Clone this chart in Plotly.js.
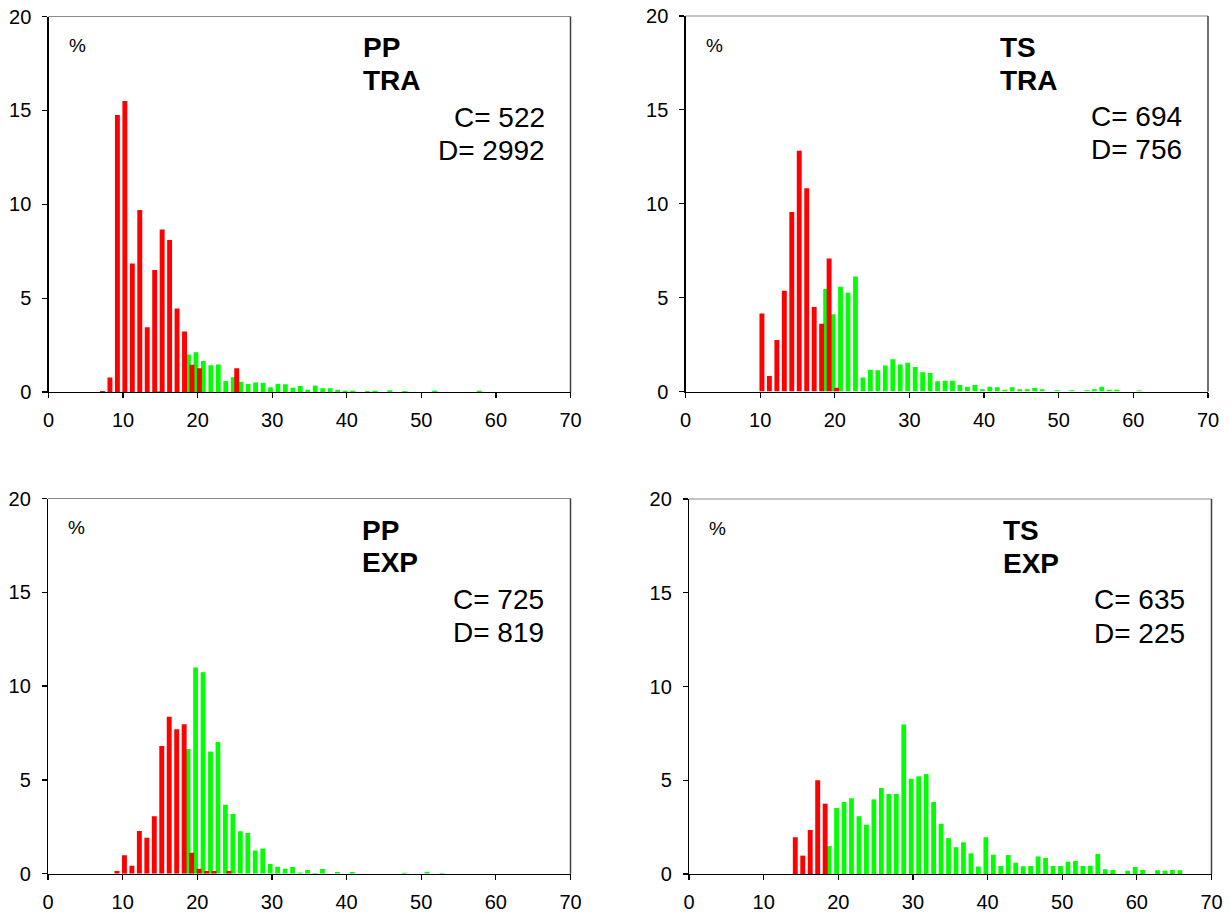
<!DOCTYPE html>
<html>
<head>
<meta charset="utf-8">
<script src="https://cdn.plot.ly/plotly-3.0.1.min.js"></script>
<style>
  html, body { margin: 0; padding: 0; background: #fff; }
  #chart { width: 1231px; height: 914px; }
</style>
</head>
<body>
<div id="chart"></div>
<script>
// ---------- DATA ----------
// Panel 1: PP TRA
const ppTraRedX = [7, 8, 9, 10, 11, 12, 13, 14, 15, 16, 17, 18, 19, 20, 25];
const ppTraRedY = [0.05, 0.77, 14.75, 15.5, 6.85, 9.7, 3.45, 6.5, 8.65, 8.1, 4.45, 3.22, 1.45, 1.26, 1.26];
const ppTraGreenX = [15, 19, 20, 21, 22, 23, 24, 25, 26, 27, 28, 29, 30, 31, 32, 33, 34, 35, 36, 37, 38, 39, 40, 41, 43, 44, 46, 48, 52, 58];
const ppTraGreenY = [0.05, 2.0, 2.12, 1.65, 1.43, 1.46, 0.58, 0.79, 0.55, 0.43, 0.51, 0.49, 0.25, 0.44, 0.41, 0.23, 0.32, 0.12, 0.34, 0.2, 0.2, 0.12, 0.07, 0.07, 0.05, 0.07, 0.09, 0.05, 0.07, 0.07];

// Panel 2: TS TRA
const tsTraRedX = [10, 11, 12, 13, 14, 15, 16, 17, 18, 19, 20];
const tsTraRedY = [4.16, 0.82, 2.74, 5.37, 9.56, 12.82, 10.83, 4.5, 3.61, 7.08, 0.2];
const tsTraGreenX = [19, 20, 21, 22, 23, 24, 25, 26, 27, 28, 29, 30, 31, 32, 33, 34, 35, 36, 37, 38, 39, 40, 41, 42, 43, 44, 45, 46, 47, 48, 50, 52, 54, 55, 56, 57, 58, 61];
const tsTraGreenY = [5.46, 4.12, 5.58, 5.26, 6.13, 0.75, 1.16, 1.13, 1.39, 1.72, 1.44, 1.53, 1.3, 1.03, 0.98, 0.55, 0.57, 0.57, 0.34, 0.25, 0.34, 0.12, 0.25, 0.23, 0.09, 0.23, 0.12, 0.12, 0.18, 0.12, 0.07, 0.07, 0.07, 0.12, 0.25, 0.09, 0.09, 0.05];

// Panel 3: PP EXP
const ppExpRedX = [9, 10, 11, 12, 13, 14, 15, 16, 17, 18, 19, 20, 21, 22, 24];
const ppExpRedY = [0.14, 0.98, 0.43, 2.28, 1.92, 3.06, 6.81, 8.36, 7.7, 7.96, 1.12, 0.27, 0.14, 0.14, 0.14];
const ppExpGreenX = [19, 20, 21, 22, 23, 24, 25, 26, 27, 28, 29, 30, 31, 32, 33, 34, 35, 36, 37, 39, 41, 48, 51, 53];
const ppExpGreenY = [6.65, 10.99, 10.74, 6.51, 7.02, 3.68, 3.18, 2.26, 2.17, 1.24, 1.34, 0.52, 0.37, 0.27, 0.36, 0.07, 0.2, 0.04, 0.25, 0.09, 0.09, 0.05, 0.11, 0.04];

// Panel 4: TS EXP
const tsExpRedX = [14, 15, 16, 17, 18];
const tsExpRedY = [1.96, 0.98, 2.35, 5.0, 3.75];
const tsExpGreenX = [19, 20, 21, 22, 23, 24, 25, 26, 27, 28, 29, 30, 31, 32, 33, 34, 35, 36, 37, 38, 39, 40, 41, 42, 43, 44, 45, 46, 47, 48, 49, 50, 51, 52, 53, 54, 55, 56, 57, 59, 60, 61, 63, 64, 65, 66];
const tsExpGreenY = [1.49, 3.52, 3.84, 4.04, 3.08, 2.63, 3.98, 4.59, 4.27, 4.27, 7.98, 5.08, 5.21, 5.33, 3.84, 2.68, 1.91, 1.43, 1.69, 1.1, 0.4, 1.96, 1.03, 0.43, 1.01, 0.6, 0.41, 0.43, 0.94, 0.85, 0.43, 0.43, 0.66, 0.69, 0.43, 0.44, 1.07, 0.25, 0.21, 0.18, 0.37, 0.21, 0.2, 0.18, 0.21, 0.2];

// Panel labels
const panelGroup = ["PP", "TS", "PP", "TS"];
const panelType = ["TRA", "TRA", "EXP", "EXP"];
const panelC = [522, 694, 725, 635];
const panelD = [2992, 756, 819, 225];

const xTicks = [0, 10, 20, 30, 40, 50, 60, 70];
const yTicks = [0, 5, 10, 15, 20];

// ---------- LAYOUT ----------
const W = 1231, H = 914;
// plot areas in px: [left, right, top, bottom]
const boxes = [
  [48.5, 570.5, 16.5, 392],
  [685.5, 1208, 16, 391.5],
  [48, 570.5, 498.5, 873.7],
  [689, 1211.5, 499, 874]
];
const series = [
  [ppTraRedX, ppTraRedY, ppTraGreenX, ppTraGreenY],
  [tsTraRedX, tsTraRedY, tsTraGreenX, tsTraGreenY],
  [ppExpRedX, ppExpRedY, ppExpGreenX, ppExpGreenY],
  [tsExpRedX, tsExpRedY, tsExpGreenX, tsExpGreenY]
];

const FONT = "Liberation Sans, Arial, sans-serif";
const data = [];
const layout = {
  width: W, height: H,
  margin: {l: 0, r: 0, t: 0, b: 0},
  paper_bgcolor: "#fff", plot_bgcolor: "#fff",
  showlegend: false,
  barmode: "overlay",
  font: {family: FONT, color: "#000", size: 20},
  annotations: [], shapes: []
};

boxes.forEach((b, i) => {
  const n = i + 1;
  const xa = n === 1 ? "x" : "x" + n;
  const ya = n === 1 ? "y" : "y" + n;
  const s = series[i];
  data.push({
    type: "bar", x: s[2], y: s[3], xaxis: xa, yaxis: ya,
    width: 0.64, offset: -0.55,
    marker: {color: "#00FF00", line: {width: 0}}, hoverinfo: "x+y"
  });
  data.push({
    type: "bar", x: s[0], y: s[1], xaxis: xa, yaxis: ya,
    width: 0.66, offset: -0.09,
    marker: {color: "#FF0000", line: {width: 0}}, hoverinfo: "x+y"
  });
  const axBase = {
    showgrid: false, zeroline: false, showline: true,
    linecolor: "#000", linewidth: 1.2,
    ticks: "outside", ticklen: 5, tickcolor: "#000", tickwidth: 1.2,
    tickfont: {family: FONT, size: 20, color: "#000"},
    tickmode: "array", fixedrange: true
  };
  layout[n === 1 ? "xaxis" : "xaxis" + n] = Object.assign({}, axBase, {
    domain: [b[0] / W, b[1] / W], range: [0, 70],
    tickvals: xTicks, ticktext: xTicks.map(String),
    anchor: ya, ticklabelstandoff: 5
  });
  layout[n === 1 ? "yaxis" : "yaxis" + n] = Object.assign({}, axBase, {
    domain: [1 - b[3] / H, 1 - b[2] / H], range: [0, 20],
    tickvals: yTicks, ticktext: yTicks.map(String),
    anchor: xa, ticklabelstandoff: 7
  });
  // frame: top grey, right dark grey
  layout.shapes.push({type: "line", xref: "paper", yref: "paper",
    x0: b[0] / W, x1: b[1] / W, y0: 1 - b[2] / H, y1: 1 - b[2] / H,
    line: {color: "#8a8a8a", width: 1.2}});
  layout.shapes.push({type: "line", xref: "paper", yref: "paper",
    x0: b[1] / W, x1: b[1] / W, y0: 1 - b[2] / H, y1: 1 - b[3] / H,
    line: {color: "#404040", width: 1.5}});

  const ox = b[0], oy = b[2];
  const ann = (dx, dy, text, anchor, size, bold) => layout.annotations.push({
    xref: "paper", yref: "paper", x: (ox + dx) / W, y: 1 - (oy + dy) / H,
    xanchor: anchor, yanchor: "middle", showarrow: false,
    text: bold ? "<b>" + text + "</b>" : text,
    font: {family: FONT, size: size, color: "#000"}, align: anchor
  });
  ann(18, 29, "%", "left", 19, false);
  ann(312, 31.5, panelGroup[i], "left", 28, true);
  ann(312, 64, panelType[i], "left", 28, true);
  ann(498, 100.5, "C= " + panelC[i], "right", 28, false);
  ann(498, 134, "D= " + panelD[i], "right", 28, false);
});

Plotly.newPlot("chart", data, layout, {displayModeBar: false, staticPlot: true});
</script>
</body>
</html>
